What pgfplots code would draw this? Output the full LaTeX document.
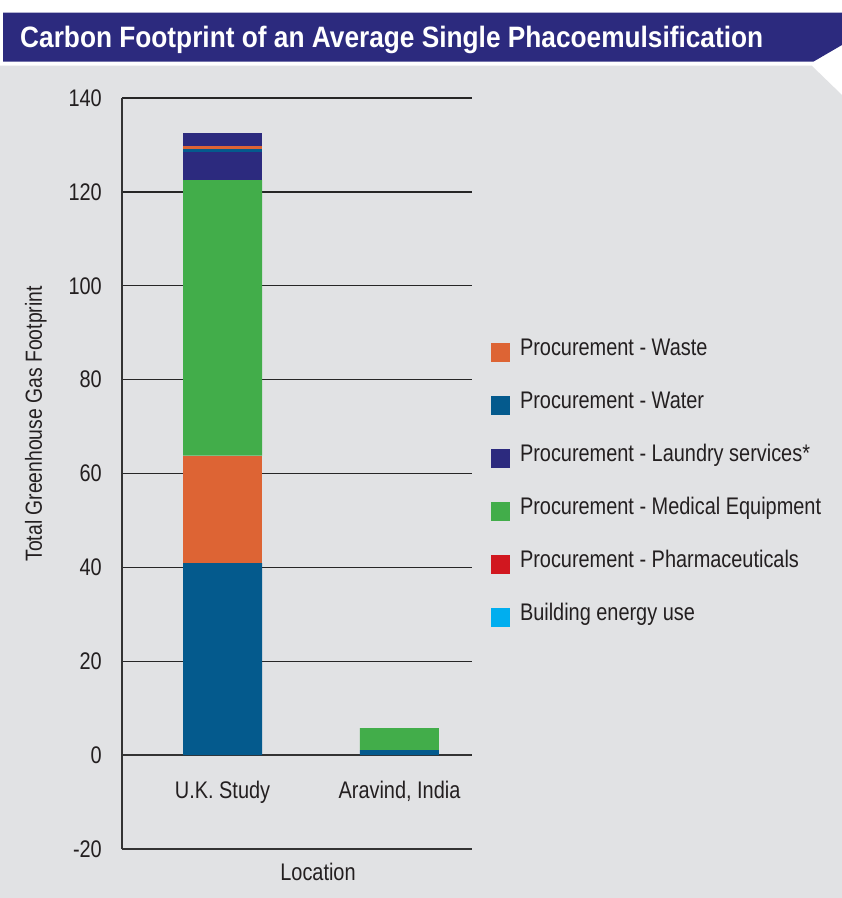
\documentclass[border=0pt]{standalone}
\usepackage{fontspec}
\setmainfont{Liberation Sans}[FakeStretch=0.83]
\newfontfamily\titlefont{Liberation Sans}[FakeStretch=0.89]
\usepackage{pgfplots}
\pgfplotsset{compat=1.18}
\definecolor{navy}{RGB}{44,42,126}
\definecolor{bggrey}{RGB}{225,226,228}
\definecolor{textc}{RGB}{35,31,32}
\definecolor{cwater}{RGB}{4,90,141}
\definecolor{cwaste}{RGB}{221,100,52}
\definecolor{claundry}{RGB}{44,42,126}
\definecolor{cmedical}{RGB}{66,173,74}
\definecolor{cpharma}{RGB}{209,23,31}
\definecolor{cbuilding}{RGB}{0,174,239}
\begin{document}
\begin{tikzpicture}[x=1pt,y=1pt]
\useasboundingbox (0,0) rectangle (842,898);
\fill[white] (0,0) rectangle (842,898);
\fill[bggrey] (0,0) -- (0,832.3) -- (811.7,832.3) -- (842,803) -- (842,0) -- cycle;
\fill[navy] (3,885.3) -- (842,885.3) -- (842,853) -- (813.3,836.3) -- (3,836.3) -- cycle;
\node[anchor=base west, inner sep=0pt, text=white, font=\titlefont\bfseries\fontsize{29.5}{34}\selectfont] at (20,850.7) {Carbon Footprint of an Average Single Phacoemulsification};
\begin{axis}[
  at={(122pt,49pt)}, anchor=south west,
  scale only axis, width=349.7pt, height=751pt,
  ybar stacked, bar width=79pt,
  xmin=-0.568, xmax=1.408, ymin=-20, ymax=140,
  xtick={0,1}, xticklabels={U.K. Study, {Aravind, India}},
  ytick={-20,0,20,40,60,80,100,120,140},
  major tick length=0pt,
  axis lines*=left,
  axis line style={black!80, line width=1.3pt},
  ymajorgrids, grid style={black!85, line width=1.3pt},
  /pgf/number format/assume math mode=true,
  tick label style={font=\fontsize{24}{28}\selectfont, text=textc},
  yticklabel style={anchor=east, inner sep=0pt, xshift=-20pt},
  xticklabel style={anchor=base, yshift=50pt},
  xlabel={Location}, ylabel={Total Greenhouse Gas Footprint},
  every axis x label/.style={at={(axis description cs:0.5605,-0.0413)}, anchor=base, font=\fontsize{24}{28}\selectfont, text=textc},
  every axis y label/.style={at={(axis description cs:-0.2288,0.566)}, rotate=90, anchor=base, font=\fontsize{23.3}{28}\selectfont, text=textc},
  legend cell align=left,
  legend image code/.code={\path[#1] (0pt,-9.5pt) rectangle (19pt,9.5pt);},
  legend style={at={(axis description cs:1.0552,0.6764)}, anchor=north west, draw=none, fill=none, inner sep=0pt, outer sep=0pt, row sep=31pt, column sep=10pt, font=\fontsize{24}{28}\selectfont, text=textc, nodes={inner sep=0pt, text height=14.5pt, text depth=7.5pt}},
]
\addplot[fill=cwater, draw=none, forget plot] coordinates {(0,40.9) (1,1.07)};
\addplot[fill=cwaste, draw=none, forget plot] coordinates {(0,22.9) (1,0)};
\addplot[fill=cmedical, draw=none, forget plot] coordinates {(0,58.7) (1,4.68)};
\addplot[fill=claundry, draw=none, forget plot] coordinates {(0,6.0) (1,0)};
\addplot[fill=cwater, draw=none, forget plot] coordinates {(0,0.64) (1,0)};
\addplot[fill=cwaste, draw=none, forget plot] coordinates {(0,0.64) (1,0)};
\addplot[fill=claundry, draw=none, forget plot] coordinates {(0,2.77) (1,0)};
\addplot[fill=cpharma, draw=none, forget plot] coordinates {(0,0) (1,0)};
\addplot[fill=cbuilding, draw=none, forget plot] coordinates {(0,0) (1,0)};
\draw[black!80, line width=1.3pt] (axis cs:-0.568,0) -- (axis cs:1.408,0);
\addlegendimage{fill=cwaste, draw=none}\addlegendentry{Procurement - Waste}
\addlegendimage{fill=cwater, draw=none}\addlegendentry{Procurement - Water}
\addlegendimage{fill=claundry, draw=none}\addlegendentry{Procurement - Laundry services*}
\addlegendimage{fill=cmedical, draw=none}\addlegendentry{Procurement - Medical Equipment}
\addlegendimage{fill=cpharma, draw=none}\addlegendentry{Procurement - Pharmaceuticals}
\addlegendimage{fill=cbuilding, draw=none}\addlegendentry{Building energy use}
\end{axis}
\end{tikzpicture}
\end{document}
